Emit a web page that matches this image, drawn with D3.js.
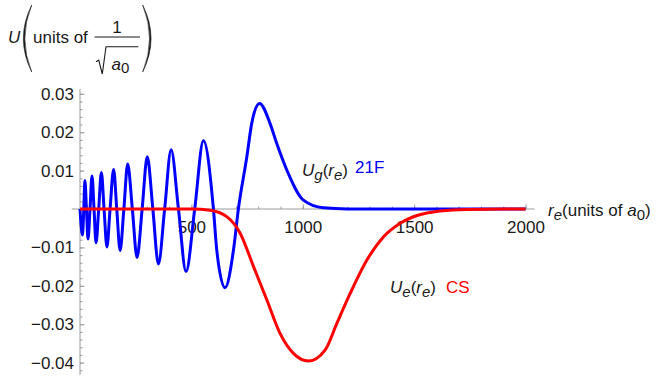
<!DOCTYPE html>
<html>
<head>
<meta charset="utf-8">
<script src="https://cdn.jsdelivr.net/npm/d3@7"></script>
<style>
  body { margin: 0; background: #fff; }
  svg { display: block; font-family: "Liberation Sans", Arial, sans-serif; }
  .tick text { font-size: 17px; fill: #1a1a1a; }
</style>
</head>
<body>
<div id="chart"></div>
<script>
// values: r_e (units of a0) and U
var gR = [0, 11, 17, 22, 29, 36, 45, 54, 63, 72, 84, 96, 108, 121, 135, 151, 165, 180, 197, 214,
  235, 256, 279, 302, 327, 352, 380, 409, 442, 476, 515, 554, 599, 614, 651, 689, 711, 749, 771,
  806, 853, 883, 928, 1003, 1092, 1200, 2000];
var gU = [0, -0.0068, 0, 0.0074, 0, -0.0078, 0, 0.0086, 0, -0.0088, 0, 0.0095, 0, -0.0099, 0, 0.0103,
  0, -0.0108, 0, 0.0117, 0, -0.0126, 0, 0.0136, 0, -0.0143, 0, 0.0154, 0, -0.0163, 0, 0.0178, 0,
  -0.0107, -0.0205, -0.0107, 0, 0.0136, 0.0223, 0.0275, 0.0223, 0.0171, 0.0102, 0.0023, 0.0003, 0, 0];

var eR = [0, 500, 584, 659, 719, 779, 839, 898, 958, 1026, 1101, 1153, 1213, 1288, 1363, 1438,
  1513, 1617, 1737, 2000];
var eU = [0, 0, -0.0003, -0.002, -0.0063, -0.015, -0.0237, -0.0324, -0.0376, -0.0396, -0.0367,
  -0.0298, -0.022, -0.0133, -0.0072, -0.0037, -0.0017, -0.0005, -0.0001, 0];

var xTicks = [500, 1000, 1500, 2000];
var yTicks = [-0.04, -0.03, -0.02, -0.01, 0.01, 0.02, 0.03];

var svgWidth = 661;
var svgHeight = 379;

var svg = d3.select("#chart")
  .append("svg")
  .attr("width", svgWidth)
  .attr("height", svgHeight);

var x = d3.scaleLinear().domain([0, 2000]).range([80, 525.5]);
var y = d3.scaleLinear().domain([-0.04, 0.03]).range([362.6, 93.8]);

var axisColor = "#9a9a9a";
var ink = "#1a1a1a";

// minor ticks first
var xMinor = d3.range(100, 2001, 100);
var yMinor = d3.range(-42, 31, 2).map(d => d / 1000);

svg.append("g")
  .attr("transform", `translate(0, ${y(0)})`)
  .call(d3.axisBottom(x).tickValues(xMinor).tickSizeInner(-2.5).tickSizeOuter(0).tickFormat(""))
  .call(g => g.select(".domain").remove())
  .call(g => g.selectAll("line").attr("stroke", axisColor));

svg.append("g")
  .attr("transform", `translate(${x(0)}, 0)`)
  .call(d3.axisLeft(y).tickValues(yMinor).tickSizeInner(-2.5).tickSizeOuter(0).tickFormat(""))
  .call(g => g.select(".domain").remove())
  .call(g => g.selectAll("line").attr("stroke", axisColor));

// axis lines
svg.append("line")
  .attr("x1", x(-37)).attr("x2", x(2040))
  .attr("y1", y(0)).attr("y2", y(0))
  .attr("stroke", axisColor).attr("stroke-width", 1);
svg.append("line")
  .attr("x1", x(0)).attr("x2", x(0))
  .attr("y1", y(0.0312)).attr("y2", y(-0.0432))
  .attr("stroke", axisColor).attr("stroke-width", 1);

// major ticks with labels
svg.append("g")
  .attr("transform", `translate(0, ${y(0)})`)
  .call(d3.axisBottom(x).tickValues(xTicks).tickSizeInner(-4.5).tickSizeOuter(0).tickPadding(12)
    .tickFormat(d3.format("d")))
  .call(g => g.select(".domain").remove())
  .call(g => g.selectAll("line").attr("stroke", axisColor));

svg.append("g")
  .attr("transform", `translate(${x(0)}, 0)`)
  .call(d3.axisLeft(y).tickValues(yTicks).tickSizeInner(-4.5).tickSizeOuter(0).tickPadding(6)
    .tickFormat(d3.format(".2f")))
  .call(g => g.select(".domain").remove())
  .call(g => g.selectAll("line").attr("stroke", axisColor));

// curves
var line = d3.line()
  .x(d => x(d[0]))
  .y(d => y(d[1]))
  .curve(d3.curveMonotoneX);

svg.append("path")
  .datum(d3.zip(gR, gU))
  .attr("d", line)
  .attr("fill", "none")
  .attr("stroke", "#0000ff")
  .attr("stroke-width", 3);

svg.append("path")
  .datum(d3.zip(eR, eU))
  .attr("d", line)
  .attr("fill", "none")
  .attr("stroke", "#ff0000")
  .attr("stroke-width", 3);

// italic symbol with subscript, e.g. U_g(r_e)
function symbolLabel(sel, sub1, sub2) {
  sel.append("tspan").attr("font-style", "italic").text("U");
  sel.append("tspan").attr("font-style", "italic").attr("font-size", 15).attr("dy", 4).text(sub1);
  sel.append("tspan").attr("dy", -4).text("(");
  sel.append("tspan").attr("font-style", "italic").text("r");
  sel.append("tspan").attr("font-style", "italic").attr("font-size", 15).attr("dy", 4).text(sub2);
  sel.append("tspan").attr("dy", -4).text(")");
}

var lg = svg.append("text").attr("x", 302).attr("y", 176).attr("font-size", 17).attr("fill", ink);
symbolLabel(lg, "g", "e");
svg.append("text").attr("x", 355).attr("y", 172.5).attr("font-size", 17).attr("fill", "#0000ff").text("21F");

var le = svg.append("text").attr("x", 390).attr("y", 292.5).attr("font-size", 17).attr("fill", ink);
symbolLabel(le, "e", "e");
svg.append("text").attr("x", 446).attr("y", 292.5).attr("font-size", 17).attr("fill", "#ff0000").text("CS");

// x axis title
var xt = svg.append("text").attr("x", 548).attr("y", 216).attr("font-size", 17).attr("fill", ink);
xt.append("tspan").attr("font-style", "italic").text("r");
xt.append("tspan").attr("font-style", "italic").attr("font-size", 15).attr("dy", 4).text("e");
xt.append("tspan").attr("dy", -4).text("(units of ");
xt.append("tspan").attr("font-style", "italic").text("a");
xt.append("tspan").attr("font-size", 15).attr("dy", 4).text("0");
xt.append("tspan").attr("dy", -4).text(")");

// y axis title: U ( units of 1 / sqrt(a0) )
svg.append("text").attr("x", 8).attr("y", 42.5).attr("font-size", 17).attr("font-style", "italic")
  .attr("fill", ink).text("U");
svg.append("path")
  .attr("d", "M31.7,5 Q15,38.5 31.7,72 Q18,38.5 31.7,5 Z")
  .attr("fill", ink).attr("stroke", ink).attr("stroke-width", 0.6);
svg.append("text").attr("x", 33).attr("y", 43).attr("font-size", 17).attr("fill", ink).text("units of");
svg.append("text").attr("x", 117).attr("y", 33.3).attr("font-size", 17).attr("text-anchor", "middle")
  .attr("fill", ink).text("1");
svg.append("line").attr("x1", 94.5).attr("x2", 140).attr("y1", 37).attr("y2", 37)
  .attr("stroke", ink).attr("stroke-width", 1.1);
svg.append("path")
  .attr("d", "M96,61.7 L98.7,60 L102.3,74 L106,46.7 L138.3,46.7")
  .attr("fill", "none").attr("stroke", ink).attr("stroke-width", 1.1);
var a0 = svg.append("text").attr("x", 111.5).attr("y", 69.5).attr("font-size", 17).attr("fill", ink);
a0.append("tspan").attr("font-style", "italic").text("a");
a0.append("tspan").attr("font-size", 15).attr("dy", 3).text("0");
svg.append("path")
  .attr("d", "M142.7,5 Q159.4,38.5 142.7,72 Q156.4,38.5 142.7,5 Z")
  .attr("fill", ink).attr("stroke", ink).attr("stroke-width", 0.6);
</script>
</body>
</html>
